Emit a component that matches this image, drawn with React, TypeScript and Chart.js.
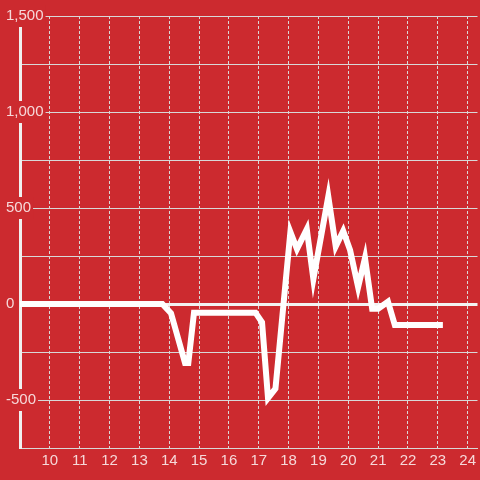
import React, { useEffect, useRef } from 'react';
import { Chart, registerables } from 'chart.js';

Chart.register(...registerables);

// Hours of day (decimal) and values
const times = [8.75, 13.77, 14.06, 14.53, 14.64, 14.83, 16.89, 17.11, 17.31, 17.56, 18.06, 18.28, 18.61, 18.83, 19.33, 19.58, 19.83, 20.06, 20.33, 20.56, 20.8, 21.0, 21.33, 21.56, 23.17];
const values = [0, 0, -48, -307, -307, -45, -45, -95, -490, -440, 375, 286, 390, 130, 560, 300, 380, 281, 88, 240, -25, -25, 12, -110, -110];

const xTickValues = [10, 11, 12, 13, 14, 15, 16, 17, 18, 19, 20, 21, 22, 23, 24];
const yLabelStep = 500;

const BG = '#cc2a2f';
const GRID = '#d8d8d8';
const TEXT = 'rgba(255,255,255,0.82)';

export default function App() {
  const ref = useRef<HTMLCanvasElement>(null);

  useEffect(() => {
    document.body.style.margin = '0';
    document.body.style.background = BG;
    const canvas = ref.current;
    if (!canvas) return;

    const bgPlugin = {
      id: 'bg',
      beforeDraw(chart: any) {
        const { ctx, width, height } = chart;
        ctx.save();
        ctx.fillStyle = BG;
        ctx.fillRect(0, 0, width, height);
        ctx.restore();
      },
    };

    const chart = new Chart(canvas, {
      type: 'line',
      data: {
        datasets: [
          {
            data: times.map((t, i) => ({ x: t, y: values[i] })),
            borderColor: '#ffffff',
            borderWidth: 6,
            pointRadius: 0,
            tension: 0,
            fill: false,
          },
        ],
      },
      options: {
        responsive: false,
        animation: false,
        layout: { padding: { left: 6, top: 16, right: 0, bottom: 6 } },
        plugins: {
          legend: { display: false },
          tooltip: { enabled: false },
        },
        scales: {
          x: {
            type: 'linear',
            min: 9,
            max: 24.33,
            afterBuildTicks: (scale: any) => {
              scale.ticks = xTickValues.map((v) => ({ value: v }));
            },
            afterFit: (scale: any) => {
              scale.height = 26;
            },
            grid: { color: GRID, lineWidth: 1, drawTicks: false },
            border: { display: true, color: GRID, width: 1, dash: [3, 2] },
            ticks: {
              color: TEXT,
              font: { family: '"Liberation Sans", Arial, sans-serif', size: 15 },
              padding: 4,
              maxRotation: 0,
              autoSkip: false,
            },
          },
          y: {
            type: 'linear',
            min: -750,
            max: 1500,
            afterFit: (scale: any) => {
              scale.width = 14;
            },
            grid: {
              color: (ctx: any) => (ctx.tick && ctx.tick.value === 0 ? '#f2f2f2' : GRID),
              lineWidth: (ctx: any) => (ctx.tick && ctx.tick.value === 0 ? 3 : 1),
              drawTicks: false,
            },
            border: { display: true, color: '#f0f0f0', width: 3 },
            ticks: {
              stepSize: 250,
              color: TEXT,
              font: { family: '"Liberation Sans", Arial, sans-serif', size: 15 },
              mirror: true,
              crossAlign: 'near',
              padding: -14,
              showLabelBackdrop: true,
              backdropColor: BG,
              backdropPadding: 2,
              callback: (v: any) => (Number(v) % yLabelStep === 0 ? Number(v).toLocaleString('en-US') : ''),
            },
          },
        },
      },
      plugins: [bgPlugin],
    } as any);

    return () => chart.destroy();
  }, []);

  return (
    <div style={{ width: 480, height: 480 }}>
      <canvas ref={ref} width={480} height={480} style={{ display: 'block' }} />
    </div>
  );
}
